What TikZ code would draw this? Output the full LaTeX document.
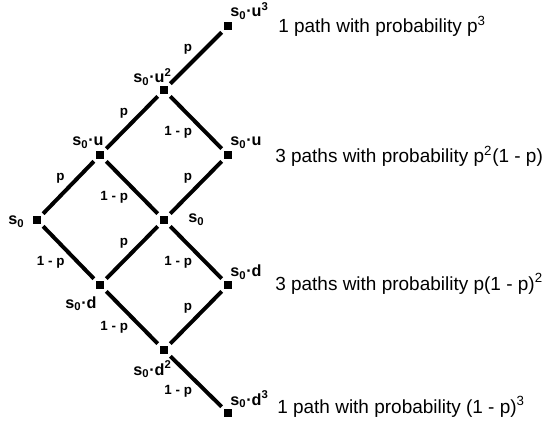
\documentclass[tikz,border=0pt]{standalone}
\usepackage{fontspec}
\setmainfont{Liberation Sans}
\tikzset{
	vtx/.style={shape=rectangle, fill=black, minimum size=6pt, inner sep=0pt, outer sep=1.5pt},
	vname/.style={anchor=base west, inner sep=0pt, font=\fontsize{11.5}{13}\selectfont\bfseries},
	branch/.style={line width=2.8pt},
	prob/.style={inner sep=1.5pt, font=\fontsize{9.5}{11}\selectfont\bfseries},
	count/.style={anchor=base west, inner sep=0pt, font=\fontsize{13.5}{16}\selectfont},
}
\begin{document}
\begin{tikzpicture}
	\useasboundingbox (0,0) rectangle (13.75,10.625);
	% Paths, nodes and wires:
	\node[vtx] (s0l) at (0.925, 5.125){};
	\node[vtx] (u1) at (2.5, 6.75){};
	\node[vtx] (d1) at (2.5, 3.5){};
	\node[vtx] (u2) at (4.1, 8.375){};
	\node[vtx] (m2) at (4.1, 5.125){};
	\node[vtx] (d2) at (4.1, 1.875){};
	\node[vtx] (u3) at (5.7, 9.975){};
	\node[vtx] (um) at (5.7, 6.75){};
	\node[vtx] (dm) at (5.7, 3.5){};
	\node[vtx] (d3) at (5.7, 0.3){};
	\node[vname] (ns0l) at (0.2, 5.0){s\textsubscript{0}};
	\node[vname] (nu1) at (1.8, 6.975){s\textsubscript{0}·u};
	\node[vname] (nu2) at (3.325, 8.55){s\textsubscript{0}·u\textsuperscript{2}};
	\node[vname] (nu3) at (5.75, 10.2){s\textsubscript{0}·u\textsuperscript{3}};
	\node[vname] (num) at (5.75, 6.975){s\textsubscript{0}·u};
	\node[vname] (nm2) at (4.7, 5.05){s\textsubscript{0}};
	\node[vname] (ndm) at (5.75, 3.7){s\textsubscript{0}·d};
	\node[vname] (nd1) at (1.625, 2.925){s\textsubscript{0}·d};
	\node[vname] (nd2) at (3.325, 1.25){s\textsubscript{0}·d\textsuperscript{2}};
	\node[vname] (nd3) at (5.75, 0.5){s\textsubscript{0}·d\textsuperscript{3}};
	\draw[branch] (s0l) -- node[prob, above left]{p} (u1);
	\draw[branch] (u1) -- node[prob, above left]{p} (u2);
	\draw[branch] (u2) -- node[prob, above left]{p} (u3);
	\draw[branch] (m2) -- node[prob, above left]{p} (um);
	\draw[branch] (d1) -- node[prob, above left]{p} (m2);
	\draw[branch] (d2) -- node[prob, above left]{p} (dm);
	\draw[branch] (s0l) -- node[prob, below left]{1 - p} (d1);
	\draw[branch] (u1) -- node[prob, below left]{1 - p} (m2);
	\draw[branch] (u2) -- node[prob, below left]{1 - p} (um);
	\draw[branch] (m2) -- node[prob, below left]{1 - p} (dm);
	\draw[branch] (d1) -- node[prob, below left]{1 - p} (d2);
	\draw[branch] (d2) -- node[prob, below left]{1 - p} (d3);
	\node[count] (c3) at (6.95, 9.8){1 path with probability p\textsuperscript{3}};
	\node[count] (c2) at (6.875, 6.55){3 paths with probability p\textsuperscript{2}(1 - p)};
	\node[count] (c1) at (6.875, 3.375){3 paths with probability p(1 - p)\textsuperscript{2}};
	\node[count] (c0) at (6.925, 0.3){1 path with probability (1 - p)\textsuperscript{3}};
\end{tikzpicture}
\end{document}
